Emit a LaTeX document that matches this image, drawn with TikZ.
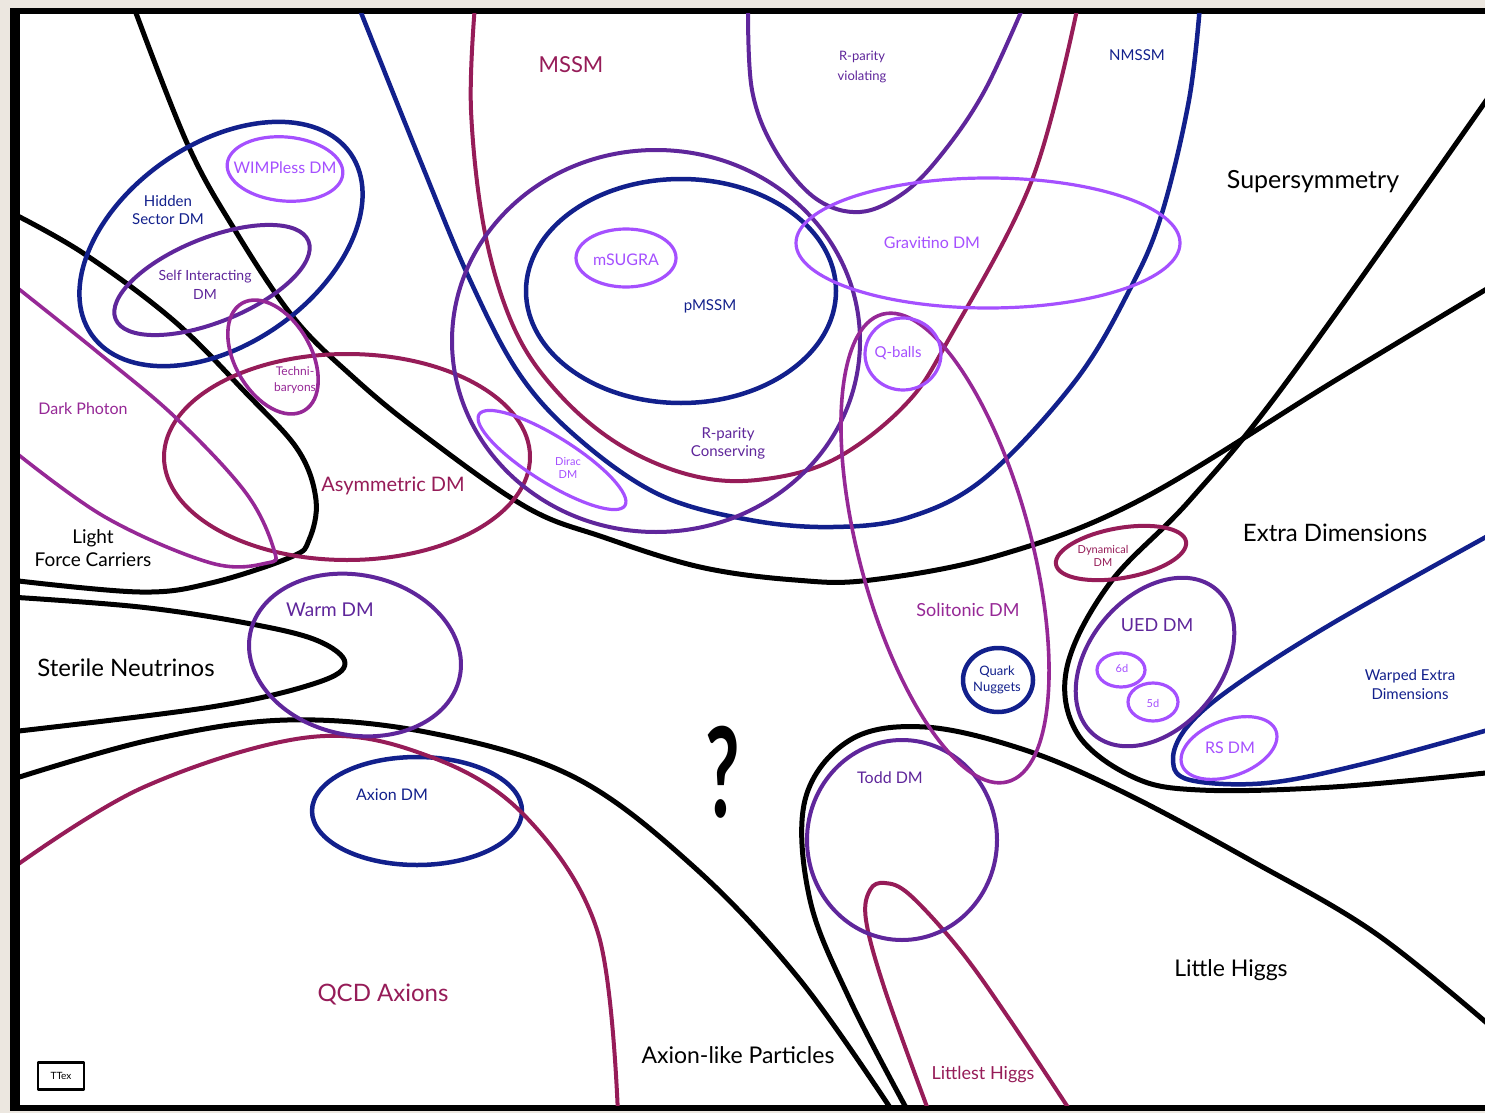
\documentclass[tikz,border=0pt]{standalone}
\usepackage{fontspec}
\setmainfont{Lato}
\definecolor{navy}{RGB}{18,32,140}
\definecolor{crim}{RGB}{150,28,88}
\definecolor{purp}{RGB}{95,38,155}
\definecolor{magn}{RGB}{150,40,150}
\definecolor{viol}{RGB}{165,80,255}
\definecolor{beige}{RGB}{236,231,224}
\newcommand\fsz[2]{\fontsize{#1}{#2}\selectfont}
\begin{document}
\begin{tikzpicture}[x=1pt,y=-1pt,line join=round,line cap=round,
  bk/.style={draw=black,line width=5pt},
  cnavy/.style={draw=navy,line width=4.5pt},
  ccrim/.style={draw=crim,line width=4pt},
  cpurp/.style={draw=purp,line width=4pt},
  cmagn/.style={draw=magn,line width=3.6pt},
  cviol/.style={draw=viol,line width=3.2pt},
  lbl/.style={inner sep=0pt,align=center}]
\useasboundingbox (0,0) rectangle (1485,1113);
\fill[beige] (0,0) rectangle (1485,1113);
\fill[black] (10,8) rectangle (1485,1111);
\fill[white] (20,14) rectangle (1485,1105);
\begin{scope}
\clip (20,14) rectangle (1485,1105);
% ---------- black region boundaries ----------
\draw[bk] plot[smooth,tension=0.6] coordinates {(133,5) (187,143) (233,227) (293,317) (353,377) (421,433) (526,507) (603,537) (700,567) (795,580) (871,580) (1000,555) (1140,500) (1336,380) (1495,284)};
\draw[bk] plot[smooth,tension=0.6] coordinates {(10,212) (83,253) (173,320) (246,393) (298,450) (316,500) (309,540) (291,557) (211,583) (140,592) (10,580)};
\draw[bk] plot[smooth,tension=0.6] coordinates {(10,597) (140,607) (246,623) (316,640) (345,663) (316,683) (211,707) (10,732)};
\draw[bk] plot[smooth,tension=0.6] coordinates {(10,780) (150,740) (287,720) (431,733) (574,777) (694,867) (800,980) (895,1115)};
\draw[bk] plot[smooth,tension=0.6] coordinates {(910,1115) (850,1000) (810,900) (805,800) (850,740) (925,727) (1025,750) (1125,793) (1250,860) (1375,933) (1495,1030)};
\draw[bk] plot[smooth,tension=0.6] coordinates {(1495,88) (1288,380) (1190,500) (1110,583) (1067,667) (1077,733) (1133,777) (1200,790) (1333,787) (1495,772)};
% ---------- blue ----------
\draw[cnavy] plot[smooth,tension=0.6] coordinates {(358,5) (420,160) (470,280) (520,375) (580,440) (660,495) (750,520) (833,527) (910,517) (986,477) (1076,380) (1131,287) (1162,213) (1189,100) (1200,5)};
\draw[cnavy] (681,291) ellipse [x radius=155pt, y radius=112pt];
\draw[cnavy, rotate around={35:(221,244)}] (221,244) ellipse [x radius=158pt, y radius=100pt];
\draw[cnavy] (417,811) ellipse [x radius=105pt, y radius=54pt];
\draw[cnavy] (998,680) ellipse [x radius=35pt, y radius=32pt];
\draw[cnavy] plot[smooth,tension=0.6] coordinates {(1495,532) (1333,623) (1233,687) (1187,727) (1173,760) (1190,780) (1267,783) (1367,763) (1495,728)};
% ---------- crimson ----------
\draw[ccrim] plot[smooth,tension=0.6] coordinates {(475,5) (471,110) (485,233) (515,330) (560,395) (620,445) (690,475) (757,480) (833,460) (905,405) (950,337) (1032,180) (1078,5)};
\draw[ccrim] (347,457) ellipse [x radius=183pt, y radius=103pt];
\draw[ccrim] plot[smooth,tension=0.6] coordinates {(10,870) (144,787) (311,737) (431,757) (526,817) (598,933) (618,1115)};
\draw[ccrim] plot[smooth,tension=0.6] coordinates {(930,1115) (885,990) (866,920) (870,890) (885,883) (910,895) (960,950) (1010,1020) (1073,1115)};
\draw[ccrim, rotate around={10:(1121,553)}] (1121,553) ellipse [x radius=66pt, y radius=25pt];
% ---------- purple ----------
\draw[cpurp] plot[smooth,tension=0.6] coordinates {(748,5) (752,90) (775,150) (815,198) (860,212) (905,192) (945,150) (985,90) (1024,5)};
\draw[cpurp] (656,341) ellipse [x radius=204pt, y radius=191pt];
\draw[cpurp, rotate around={22:(212,280)}] (212,280) ellipse [x radius=104pt, y radius=42pt];
\draw[cpurp, rotate around={-12:(355,655)}] (355,655) ellipse [x radius=107pt, y radius=80pt];
\draw[cpurp] (902,840) ellipse [x radius=95pt, y radius=100pt];
\draw[cpurp, rotate around={50:(1155,662)}] (1155,662) ellipse [x radius=95pt, y radius=66pt];
% ---------- magenta ----------
\draw[cmagn] plot[smooth,tension=0.6] coordinates {(10,282) (95,350) (175,417) (246,493) (274,550) (267,563) (211,563) (105,517) (10,448)};
\draw[cmagn, rotate around={-60:(273,357)}] (273,357) ellipse [x radius=62pt, y radius=38pt];
\draw[cmagn, rotate around={-75:(945,548)}] (945,548) ellipse [x radius=242pt, y radius=86pt];
% ---------- light violet ----------
\draw[cviol, rotate around={-5:(285,169)}] (285,169) ellipse [x radius=58pt, y radius=32pt];
\draw[cviol] (626,258) ellipse [x radius=50pt, y radius=29pt];
\draw[cviol] (988,243) ellipse [x radius=192pt, y radius=65pt];
\draw[cviol] (903,354) ellipse [x radius=38pt, y radius=36pt];
\draw[cviol, rotate around={-32:(552,460)}] (552,460) ellipse [x radius=86pt, y radius=23pt];
\draw[cviol] (1121,670) ellipse [x radius=24pt, y radius=17pt];
\draw[cviol] (1153,702) ellipse [x radius=25pt, y radius=19pt];
\draw[cviol, rotate around={20:(1229,748)}] (1229,748) ellipse [x radius=50pt, y radius=28pt];
\end{scope}
% ---------- labels ----------
\node[lbl,font=\fsz{25}{30}] (sup) at (1313,182) {Supersymmetry};
\node[lbl,font=\fsz{24}{28}] (extra) at (1335,533) {Extra Dimensions};
\node[lbl,font=\fsz{24}{28}] (sterile) at (126,668) {Sterile Neutrinos};
\node[lbl,font=\fsz{23}{27}] (alp) at (738,1055) {Axion-like Particles};
\node[lbl,font=\fsz{23}{27}] (lh) at (1231,970) {Little Higgs};
\node[lbl,font=\fsz{19}{23}] (lfc) at (93,548) {Light\\Force Carriers};
\node[lbl,text=crim,font=\fsz{22}{26}] (mssm) at (571,65) {MSSM};
\node[lbl,text=purp,font=\fsz{13}{20}] (rpv) at (862,67) {R-parity\\violating};
\node[lbl,text=navy,font=\fsz{15}{18}] (nmssm) at (1137,55) {NMSSM};
\node[lbl,text=navy,font=\fsz{15}{18}] (hidden) at (168,210) {Hidden\\Sector DM};
\node[lbl,text=viol,font=\fsz{16}{19}] (wimpless) at (285,168) {WIMPless DM};
\node[lbl,text=purp,font=\fsz{14}{19}] (sidm) at (205,285) {Self Interacting\\DM};
\node[lbl,text=viol,font=\fsz{16}{19}] (msugra) at (626,260) {mSUGRA};
\node[lbl,text=navy,font=\fsz{15}{18}] (pmssm) at (710,306) {pMSSM};
\node[lbl,text=viol,font=\fsz{16}{19}] (gravitino) at (932,243) {Gravitino DM};
\node[lbl,text=viol,font=\fsz{15}{18}] (qballs) at (898,353) {Q-balls};
\node[lbl,text=magn,font=\fsz{12}{16}] (techni) at (295,380) {Techni-\\baryons};
\node[lbl,text=magn,font=\fsz{16}{19}] (darkph) at (83,409) {Dark Photon};
\node[lbl,text=purp,font=\fsz{15}{18}] (rpc) at (728,443) {R-parity\\Conserving};
\node[lbl,text=viol,font=\fsz{11}{13}] (dirac) at (568,468) {Dirac\\DM};
\node[lbl,text=crim,font=\fsz{20}{24}] (asym) at (393,486) {Asymmetric DM};
\node[lbl,text=crim,font=\fsz{11}{13}] (dyn) at (1103,556) {Dynamical\\DM};
\node[lbl,text=purp,font=\fsz{19}{22}] (warm) at (330,610) {Warm DM};
\node[lbl,text=magn,font=\fsz{18}{22}] (solit) at (968,610) {Solitonic DM};
\node[lbl,text=purp,font=\fsz{18}{22}] (ued) at (1157,625) {UED DM};
\node[lbl,text=navy,font=\fsz{13}{16}] (quark) at (997,680) {Quark\\Nuggets};
\node[lbl,text=viol,font=\fsz{11}{13}] (dsix) at (1122,668) {6d};
\node[lbl,text=viol,font=\fsz{11}{13}] (dfive) at (1153,703) {5d};
\node[lbl,text=navy,font=\fsz{15}{19}] (warped) at (1410,685) {Warped Extra\\Dimensions};
\node[lbl,text=viol,font=\fsz{16}{19}] (rsdm) at (1230,748) {RS DM};
\node[lbl,font=\bfseries\fsz{125}{125}] (qmark) at (723,772) {\scalebox{0.6}[1]{?}};
\node[lbl,text=navy,font=\fsz{16}{19}] (axiondm) at (392,795) {Axion DM};
\node[lbl,text=purp,font=\fsz{16}{19}] (todd) at (890,778) {Todd DM};
\node[lbl,text=crim,font=\fsz{24}{28}] (qcd) at (383,995) {QCD Axions};
\node[lbl,text=crim,font=\fsz{18}{22}] (littlest) at (983,1075) {Littlest Higgs};
\node[draw=black,line width=2.5pt,minimum width=46pt,minimum height=27pt,inner sep=0pt,font=\fsz{10}{12}] (tex) at (61,1076) {TTex};
\end{tikzpicture}
\end{document}
